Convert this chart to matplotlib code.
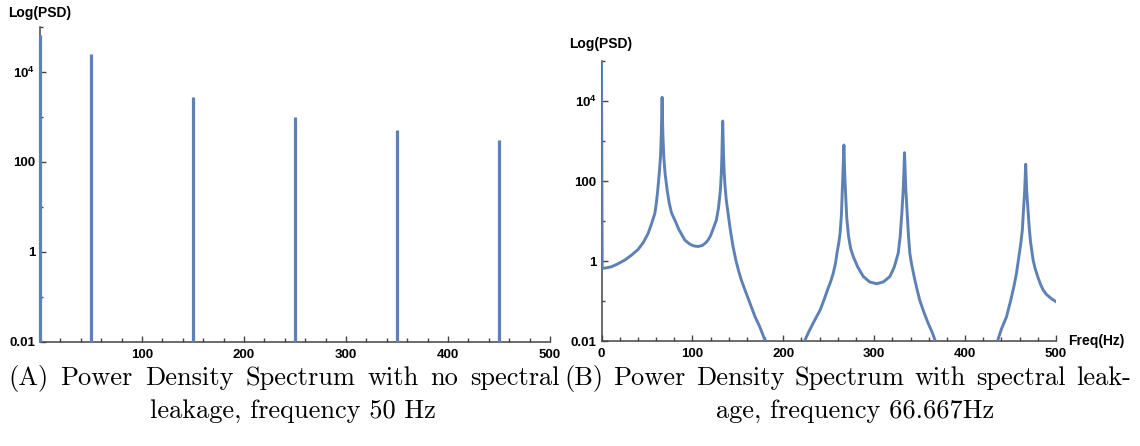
import numpy as np
import matplotlib
matplotlib.use('Agg')
import matplotlib.pyplot as plt
from matplotlib.ticker import NullFormatter

# (A) kein Leakage: Spektrallinien bei 0 Hz und den ungeraden Harmonischen von 50 Hz
freq_a = [0, 50, 150, 250, 350, 450]
psd_a = [6.6e4, 2.5e4, 2800, 1000, 515, 310]

# (B) mit Leakage, 66.667 Hz -- Kurve (nan = Lücke unter 0.01)
freq_b = [0, 0.8, 5, 11, 18, 25.7, 33, 40.3, 46, 51.3, 55, 58.7, 60.5, 61.9,
          63.5, 64.9, 65.8, 66.67,
          67.5, 68.5, 70, 72.2, 74.5, 77, 80.6, 85, 91.6, 97, 101, 106.3, 111,
          115, 117.3, 120, 123, 126.4, 128.8, 130.8, 131.8, 132.4, 132.9, 133.33,
          133.8, 134.3, 134.9, 135.8, 137.3, 139.2, 141.5, 144.7, 148, 151,
          153.8, 159, 164.8, 169, 174, 178, 181,
          np.nan,
          222.5, 228, 234.5, 240.6, 245, 249, 252, 255, 257.5, 259.3, 261,
          262.5, 264, 264.7, 265.5, 266.1, 266.67,
          267.2, 267.8, 268.7, 269.8, 271.8, 274, 277, 282, 288, 295, 302.6,
          310, 317.3, 322, 326.4, 328.5, 330.4, 331.9, 332.7, 333.33,
          334, 334.8, 336.3, 337.8, 339.2, 341, 344, 347, 350, 355, 359.3, 364,
          368,
          np.nan,
          435, 440, 445.5, 450, 453.5, 456.5, 459, 461.5, 463, 464, 465.5,
          466.1, 466.67,
          467.2, 467.8, 469.4, 470.5, 472, 474.8, 477, 480, 483, 485.8, 489,
          492, 496, 500]
psd_b = [1e5, 0.66, 0.67, 0.72, 0.85, 1.06, 1.4, 1.95, 2.9, 4.9, 8.5, 15.5, 30,
         60, 150, 405, 1500, 1.24e4,
         1500, 405, 150, 60, 28, 16, 10.6, 6.2, 3.35, 2.65, 2.4, 2.3, 2.45,
         2.9, 3.35, 4.3, 6.5, 10.6, 22, 60, 150, 405, 1200, 3160,
         1200, 405, 180, 80, 33, 15.5, 6.5, 2.3, 1.0, 0.55,
         0.335, 0.16, 0.072, 0.04, 0.023, 0.0135, 0.009,
         np.nan,
         0.009, 0.017, 0.033, 0.06, 0.11, 0.2, 0.3, 0.5, 0.9, 1.7, 2.8,
         5, 15, 41, 110, 280, 794,
         280, 110, 41, 12, 4.1, 2.1, 1.28, 0.7, 0.41, 0.3, 0.27,
         0.3, 0.41, 0.7, 1.55, 4, 15.5, 60, 180, 510,
         180, 60, 15.5, 4, 1.55, 0.86, 0.4, 0.2, 0.106, 0.05, 0.028, 0.016,
         0.009,
         np.nan,
         0.009, 0.02, 0.04, 0.1, 0.22, 0.49, 1.2, 3, 6, 15.5, 55,
         120, 262,
         120, 55, 15.5, 7, 3, 1.06, 0.65, 0.4, 0.26, 0.19, 0.15,
         0.13, 0.11, 0.096]

y_major = [0.01, 1, 100, 1e4]
y_major_labels = ['0.01', '1', '100', r'$\mathbf{10^{4}}$']
y_minor = [0.1, 10, 1000, 1e5]

plt.rcParams['font.family'] = ['Liberation Sans', 'DejaVu Sans']
plt.rcParams['font.weight'] = 'bold'
plt.rcParams['mathtext.fontset'] = 'custom'
plt.rcParams['mathtext.rm'] = 'Liberation Sans'
plt.rcParams['mathtext.bf'] = 'Liberation Sans:bold'

farbe = '#5e81b5'
achse = '#444444'
W, H = 1140, 446

fig = plt.figure(figsize=(W / 100, H / 100), dpi=100)
ax_a = fig.add_axes([40 / W, 1 - 342 / H, 510 / W, 315 / H])
ax_b = fig.add_axes([601.5 / W, 1 - 341 / H, 454.5 / W, 280 / H])


def achsen_stil(ax, x_major):
    ax.set_yscale('log')
    ax.set_xlim(0, 500)
    ax.set_ylim(0.01, 1e5)
    for s in ['top', 'right']:
        ax.spines[s].set_visible(False)
    for s in ['left', 'bottom']:
        ax.spines[s].set_color(achse)
        ax.spines[s].set_linewidth(1.1)
    ax.set_yticks(y_major)
    ax.set_yticklabels(y_major_labels)
    ax.set_yticks(y_minor, minor=True)
    ax.yaxis.set_minor_formatter(NullFormatter())
    ax.set_xticks(x_major)
    ax.set_xticklabels([str(v) for v in x_major])
    ax.set_xticks([v for v in range(20, 500, 20) if v % 100 != 0], minor=True)
    ax.tick_params(which='both', direction='in', color=achse, width=1.0,
                   labelsize=9.5)
    ax.tick_params(axis='x', which='major', length=4.5, pad=5)
    ax.tick_params(axis='x', which='minor', length=2.8)
    ax.tick_params(axis='y', which='major', length=4, pad=3.5)
    ax.tick_params(axis='y', which='minor', length=2.5)
    for t in ax.get_xticklabels() + ax.get_yticklabels():
        t.set_fontweight('bold')


achsen_stil(ax_a, [100, 200, 300, 400, 500])
achsen_stil(ax_b, [0, 100, 200, 300, 400, 500])

ax_a.vlines(freq_a, 0.01, psd_a, color=farbe, linewidth=2.3, clip_on=False,
            zorder=3)
ax_b.plot(freq_b, psd_b, color=farbe, linewidth=2.1, solid_joinstyle='round',
          zorder=3)

fig.text(40 / W, 1 - 13 / H, 'Log(PSD)', ha='center', va='center',
         fontsize=10, fontweight='bold')
fig.text(601 / W, 1 - 44 / H, 'Log(PSD)', ha='center', va='center',
         fontsize=10, fontweight='bold')
fig.text(1068 / W, 1 - 341 / H, 'Freq(Hz)', ha='left', va='center',
         fontsize=10, fontweight='bold')

# Bildunterschriften, erste Zeile im Blocksatz wie im LaTeX-Original
cap = dict(fontfamily='cmr10', fontsize=19, fontweight='normal', va='center')
renderer = fig.canvas.get_renderer()


def blocksatz(text, x0, x1, y):
    teile = [fig.text(0, y / H, w, ha='left', **cap) for w in text.split()]
    breiten = [t.get_window_extent(renderer).width for t in teile]
    luecke = (x1 - x0 - sum(breiten)) / (len(teile) - 1)
    x = x0
    for t, b in zip(teile, breiten):
        t.set_x(x / W)
        x += b + luecke


blocksatz('(A) Power Density Spectrum with no spectral', 8, 560, H - 378)
blocksatz('(B) Power Density Spectrum with spectral leak-', 564, 1131, H - 378)
fig.text(293 / W, 1 - 411 / H, 'leakage, frequency 50 Hz', ha='center', **cap)
fig.text(855 / W, 1 - 411 / H, 'age, frequency 66.667Hz', ha='center', **cap)

fig.savefig('out.png', dpi=100)
